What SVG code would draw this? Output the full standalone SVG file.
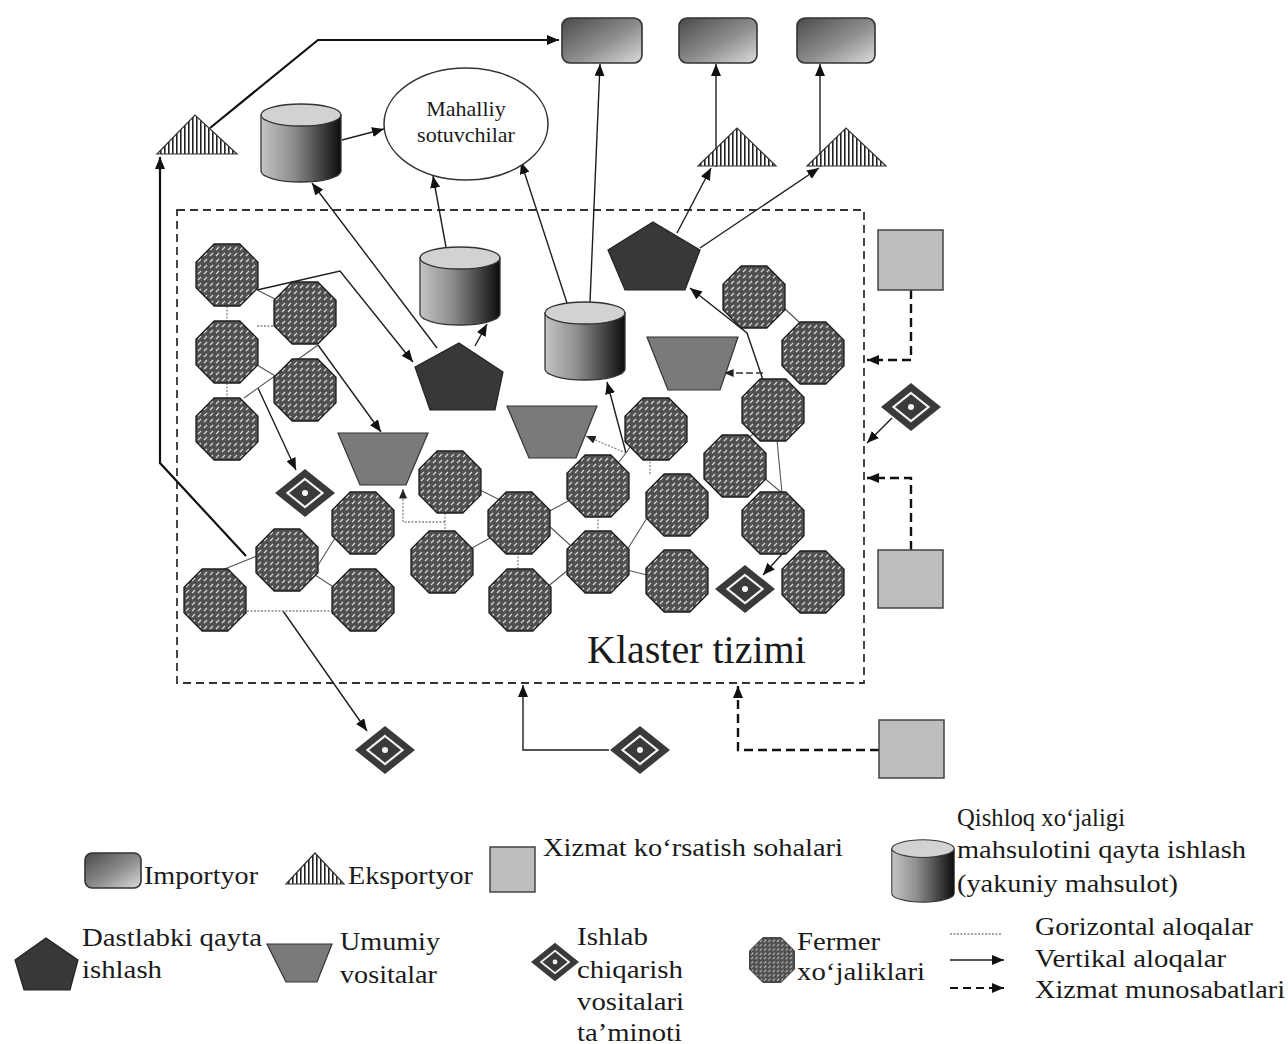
<svg xmlns="http://www.w3.org/2000/svg" xmlns:xlink="http://www.w3.org/1999/xlink" width="1288" height="1044" viewBox="0 0 1288 1044" font-family="'Liberation Serif', 'Times New Roman', serif">
<style>
text{font-family:"Liberation Serif","Times New Roman",serif;fill:#1a1a1a}
.lg{font-size:25px}
.v{fill:none;stroke:#1e1e1e;stroke-width:1.4}
.vt{fill:none;stroke:#111;stroke-width:2.2}
.s{fill:none;stroke:#111;stroke-width:2.4;stroke-dasharray:9 5}
.h{fill:none;stroke:#888;stroke-width:1.3;stroke-dasharray:2 1.5}
.l{fill:none;stroke:#555;stroke-width:1.1}
.pent{fill:#383838;stroke:#222;stroke-width:1.2}
.trap{fill:#7a7a7a;stroke:#333;stroke-width:1.2}
.svc{fill:#bdbdbd;stroke:#444;stroke-width:1.5}
.imp{fill:url(#gimp);stroke:#333;stroke-width:1.6}
.exp{fill:url(#vstr);stroke:#333;stroke-width:1.2}
</style>
<defs>
<linearGradient id="gimp" x1="0" y1="0" x2="1" y2="1">
<stop offset="0" stop-color="#4a4a4a"/><stop offset="0.55" stop-color="#8e8e8e"/><stop offset="1" stop-color="#dcdcdc"/>
</linearGradient>
<linearGradient id="gcyl" x1="0" y1="0" x2="1" y2="0">
<stop offset="0" stop-color="#c4c4c4"/><stop offset="0.4" stop-color="#8e8e8e"/><stop offset="0.78" stop-color="#3c3c3c"/><stop offset="1" stop-color="#0c0c0c"/>
</linearGradient>
<pattern id="dots" width="6" height="6" patternUnits="userSpaceOnUse">
<rect width="6" height="6" fill="#505050"/><path d="M1,5 L4,2" stroke="#d6d6d6" stroke-width="1.3"/>
</pattern>
<pattern id="vstr" width="4" height="4" patternUnits="userSpaceOnUse">
<rect width="4" height="4" fill="#fff"/><rect width="1.6" height="4" fill="#222"/>
</pattern>
<polygon id="oct" points="-12.8,-31 12.8,-31 31,-12.8 31,12.8 12.8,31 -12.8,31 -31,12.8 -31,-12.8" fill="url(#dots)" stroke="#1e1e1e" stroke-width="1.3"/>
<g id="cyl">
<path d="M-40,-28 L-40,28 A40,11 0 0 0 40,28 L40,-28 Z" fill="url(#gcyl)" stroke="#333" stroke-width="1.3"/>
<ellipse cx="0" cy="-28" rx="40" ry="11" fill="#d2d2d2" stroke="#333" stroke-width="1.3"/>
</g>
<g id="dia">
<polygon points="0,-24 30,0 0,24 -30,0" fill="#3a3a3a"/>
<polygon points="0,-14 17.5,0 0,14 -17.5,0" fill="none" stroke="#f4f4f4" stroke-width="2.2"/>
<circle r="3" fill="#f4f4f4"/>
</g>
<marker id="a" viewBox="0 0 12 10" refX="12" refY="5" markerWidth="12" markerHeight="10" markerUnits="userSpaceOnUse" orient="auto">
<path d="M0,0 L12,5 L0,10 Z" fill="#111"/>
</marker>
<marker id="as" viewBox="0 0 12 10" refX="12" refY="5" markerWidth="10" markerHeight="8" markerUnits="userSpaceOnUse" orient="auto">
<path d="M0,0 L12,5 L0,10 Z" fill="#222"/>
</marker>
</defs>

<rect width="1288" height="1044" fill="#fff"/>

<g id="cluster">
<rect x="177" y="210" width="687" height="473" fill="none" stroke="#333" stroke-width="1.8" stroke-dasharray="8 5"/>
<text x="587" y="663" font-size="40">Klaster tizimi</text>
</g>

<g id="connectors">
<polyline class="vt" points="210,128 318,40 559,40" marker-end="url(#a)"/>
<polyline class="vt" points="246,556 160,463 160,157" marker-end="url(#a)"/>
<line class="v" x1="342" y1="140" x2="384" y2="129" marker-end="url(#a)"/>
<line class="v" x1="437" y1="348" x2="312" y2="183" marker-end="url(#a)"/>
<line class="v" x1="446" y1="247" x2="433" y2="176" marker-end="url(#a)"/>
<line class="v" x1="567" y1="303" x2="521" y2="162" marker-end="url(#a)"/>
<line class="v" x1="590" y1="302" x2="600" y2="64" marker-end="url(#a)"/>
<line class="v" x1="475" y1="346" x2="487" y2="324" marker-end="url(#a)"/>
<line class="v" x1="677" y1="233" x2="711" y2="168" marker-end="url(#a)"/>
<line class="v" x1="716" y1="167" x2="716" y2="64" marker-end="url(#a)"/>
<line class="v" x1="700" y1="248" x2="819" y2="168" marker-end="url(#a)"/>
<line class="v" x1="820" y1="167" x2="820" y2="64" marker-end="url(#a)"/>
<polyline class="v" points="257,290 340,271 413,362" marker-end="url(#a)"/>
<line class="v" x1="318" y1="345" x2="381" y2="432" marker-end="url(#a)"/>
<line class="v" x1="258" y1="388" x2="296" y2="470" marker-end="url(#a)"/>
<line class="v" x1="283" y1="611" x2="367" y2="731" marker-end="url(#a)"/>
<polyline class="v" points="609,750 523,750 523,685" marker-end="url(#a)"/>
<polyline class="v" points="763,380 747,333 690,288" marker-end="url(#a)"/>
<line class="v" x1="626" y1="453" x2="607" y2="382" marker-end="url(#a)"/>
<line class="v" x1="783" y1="553" x2="763" y2="575" marker-end="url(#a)"/>
<line class="v" x1="892" y1="418" x2="867" y2="443" marker-end="url(#a)"/>
<polyline class="s" points="911,290 911,360 867,360" marker-end="url(#a)"/>
<polyline class="s" points="911,550 911,478 867,478" marker-end="url(#a)"/>
<polyline class="s" points="879,750 738,750 738,686" marker-end="url(#a)"/>
<line class="h" x1="626" y1="453" x2="586" y2="436" marker-end="url(#as)"/>
<line x1="763" y1="373" x2="724" y2="373" fill="none" stroke="#333" stroke-width="1.6" stroke-dasharray="7 3" marker-end="url(#as)"/>
<polyline class="h" points="445,522 403,522 403,489" marker-end="url(#as)"/>
<line class="h" x1="227" y1="306" x2="227" y2="322"/>
<line class="h" x1="227" y1="383" x2="227" y2="399"/>
<line class="l" x1="257" y1="290" x2="277" y2="300"/>
<line class="h" x1="257" y1="326" x2="277" y2="326"/>
<line class="l" x1="257" y1="365" x2="277" y2="377"/>
<line class="l" x1="244" y1="398" x2="318" y2="345"/>
<line class="h" x1="247" y1="611" x2="333" y2="611"/>
<line class="l" x1="222" y1="570" x2="257" y2="556"/>
<line class="l" x1="315" y1="570" x2="335" y2="538"/>
<line class="l" x1="315" y1="575" x2="335" y2="588"/>
<line class="h" x1="445" y1="513" x2="445" y2="532"/>
<line class="l" x1="480" y1="490" x2="500" y2="500"/>
<line class="l" x1="472" y1="548" x2="490" y2="538"/>
<line class="h" x1="518" y1="553" x2="518" y2="570"/>
<line class="l" x1="548" y1="512" x2="570" y2="500"/>
<line class="l" x1="548" y1="525" x2="570" y2="545"/>
<line class="l" x1="546" y1="588" x2="568" y2="570"/>
<line class="h" x1="598" y1="516" x2="598" y2="530"/>
<line class="l" x1="618" y1="463" x2="626" y2="453"/>
<line class="l" x1="626" y1="453" x2="630" y2="447"/>
<line class="l" x1="627" y1="550" x2="647" y2="518"/>
<line class="l" x1="627" y1="570" x2="647" y2="575"/>
<line class="h" x1="650" y1="458" x2="650" y2="475"/>
<line class="l" x1="783" y1="307" x2="800" y2="323"/>
<line class="l" x1="756" y1="432" x2="745" y2="440"/>
<line class="l" x1="777" y1="440" x2="782" y2="493"/>
<line class="l" x1="763" y1="477" x2="782" y2="493"/>
</g>

<g id="importer-1"><rect class="imp" x="562" y="18" width="80" height="45" rx="8"/></g>
<g id="importer-2"><rect class="imp" x="679" y="18" width="78" height="45" rx="8"/></g>
<g id="importer-3"><rect class="imp" x="797" y="18" width="78" height="45" rx="8"/></g>
<g id="exporter-1"><polygon class="exp" points="157,154 195,115 237,154"/></g>
<g id="exporter-2"><polygon class="exp" points="698,166 737,128 776,166"/></g>
<g id="exporter-3"><polygon class="exp" points="807,166 846,128 886,166"/></g>
<g id="cylinder-1"><use href="#cyl" x="301" y="143"/></g>
<g id="local-sellers">
<ellipse cx="466" cy="124" rx="82" ry="56" fill="#fff" stroke="#333" stroke-width="1.5"/>
<text x="466" y="116" font-size="22" text-anchor="middle">Mahalliy</text>
<text x="466" y="142" font-size="22" text-anchor="middle">sotuvchilar</text>
</g>

<g id="cylinder-2"><use href="#cyl" x="460" y="286"/></g>
<g id="cylinder-3"><use href="#cyl" x="585" y="341"/></g>
<g id="pent-1"><polygon class="pent" points="459,343 503,372 495,410 430,410 415,367"/></g>
<g id="pent-2"><polygon class="pent" points="653,222 700,250 685,290 625,290 608,250"/></g>
<g id="trap-1"><polygon class="trap" points="338,433 428,433 406,485 360,485"/></g>
<g id="trap-2"><polygon class="trap" points="507,406 597,406 576,458 529,458"/></g>
<g id="trap-3"><polygon class="trap" points="647,337 738,337 720,390 668,390"/></g>

<g id="farm-A"><use href="#oct" x="227" y="275"/></g>
<g id="farm-B"><use href="#oct" x="305" y="313"/></g>
<g id="farm-C"><use href="#oct" x="227" y="352"/></g>
<g id="farm-D"><use href="#oct" x="305" y="390"/></g>
<g id="farm-E"><use href="#oct" x="227" y="429"/></g>
<g id="farm-F"><use href="#oct" x="215" y="600"/></g>
<g id="farm-G"><use href="#oct" x="287" y="560"/></g>
<g id="farm-H"><use href="#oct" x="363" y="523"/></g>
<g id="farm-I"><use href="#oct" x="363" y="600"/></g>
<g id="farm-J"><use href="#oct" x="450" y="482"/></g>
<g id="farm-K"><use href="#oct" x="442" y="562"/></g>
<g id="farm-L"><use href="#oct" x="519" y="523"/></g>
<g id="farm-M"><use href="#oct" x="520" y="600"/></g>
<g id="farm-N"><use href="#oct" x="598" y="486"/></g>
<g id="farm-O"><use href="#oct" x="598" y="562"/></g>
<g id="farm-P"><use href="#oct" x="656" y="429"/></g>
<g id="farm-Q"><use href="#oct" x="677" y="505"/></g>
<g id="farm-R"><use href="#oct" x="677" y="581"/></g>
<g id="farm-S"><use href="#oct" x="754" y="297"/></g>
<g id="farm-T"><use href="#oct" x="813" y="353"/></g>
<g id="farm-U"><use href="#oct" x="773" y="410"/></g>
<g id="farm-V"><use href="#oct" x="735" y="466"/></g>
<g id="farm-W"><use href="#oct" x="773" y="523"/></g>
<g id="farm-X"><use href="#oct" x="813" y="582"/></g>

<g id="supply-1"><use href="#dia" x="305" y="493"/></g>
<g id="supply-2"><use href="#dia" x="745" y="589"/></g>
<g id="supply-3"><use href="#dia" x="911" y="407"/></g>
<g id="supply-4"><use href="#dia" x="385" y="750"/></g>
<g id="supply-5"><use href="#dia" x="640" y="750"/></g>

<g id="service-1"><rect class="svc" x="878" y="230" width="65" height="60"/></g>
<g id="service-2"><rect class="svc" x="878" y="550" width="65" height="58"/></g>
<g id="service-3"><rect class="svc" x="879" y="720" width="65" height="58"/></g>

<g id="legend">
<rect class="imp" x="85" y="853" width="56" height="35" rx="7"/>
<text class="lg" x="144" y="884" textLength="114" lengthAdjust="spacingAndGlyphs">Importyor</text>
<polygon class="exp" points="286,884 315,853 344,884"/>
<text class="lg" x="348" y="884" textLength="125" lengthAdjust="spacingAndGlyphs">Eksportyor</text>
<rect class="svc" x="490" y="847" width="45" height="45"/>
<text class="lg" x="543" y="856" textLength="300" lengthAdjust="spacingAndGlyphs">Xizmat ko‘rsatish sohalari</text>
<use href="#cyl" transform="translate(923,871) scale(0.78,0.8)"/>
<text class="lg" x="957" y="826" textLength="168" lengthAdjust="spacingAndGlyphs">Qishloq xo‘jaligi</text>
<text class="lg" x="957" y="858" textLength="289" lengthAdjust="spacingAndGlyphs">mahsulotini qayta ishlash</text>
<text class="lg" x="957" y="892" textLength="221" lengthAdjust="spacingAndGlyphs">(yakuniy mahsulot)</text>
<polygon class="pent" points="46,938 78,960 70,990 24,990 15,960"/>
<text class="lg" x="82" y="946" textLength="180" lengthAdjust="spacingAndGlyphs">Dastlabki qayta</text>
<text class="lg" x="82" y="978" textLength="80" lengthAdjust="spacingAndGlyphs">ishlash</text>
<polygon class="trap" points="267,944 332,944 317,982 286,982"/>
<text class="lg" x="340" y="950" textLength="100" lengthAdjust="spacingAndGlyphs">Umumiy</text>
<text class="lg" x="340" y="983" textLength="97" lengthAdjust="spacingAndGlyphs">vositalar</text>
<use href="#dia" transform="translate(555,962) scale(0.8)"/>
<text class="lg" x="577" y="945" textLength="71" lengthAdjust="spacingAndGlyphs">Ishlab</text>
<text class="lg" x="577" y="978" textLength="106" lengthAdjust="spacingAndGlyphs">chiqarish</text>
<text class="lg" x="577" y="1010" textLength="107" lengthAdjust="spacingAndGlyphs">vositalari</text>
<text class="lg" x="577" y="1041" textLength="105" lengthAdjust="spacingAndGlyphs">ta’minoti</text>
<use href="#oct" transform="translate(772,960) scale(0.72)"/>
<text class="lg" x="797" y="950" textLength="83" lengthAdjust="spacingAndGlyphs">Fermer</text>
<text class="lg" x="797" y="980" textLength="128" lengthAdjust="spacingAndGlyphs">xo‘jaliklari</text>
<line class="h" x1="950" y1="934" x2="1002" y2="934"/>
<line class="v" x1="950" y1="960" x2="1004" y2="960" marker-end="url(#a)"/>
<line x1="950" y1="988" x2="1004" y2="988" fill="none" stroke="#111" stroke-width="2" stroke-dasharray="8 5" marker-end="url(#a)"/>
<text class="lg" x="1035" y="935" textLength="218" lengthAdjust="spacingAndGlyphs">Gorizontal aloqalar</text>
<text class="lg" x="1035" y="967" textLength="191" lengthAdjust="spacingAndGlyphs">Vertikal aloqalar</text>
<text class="lg" x="1035" y="998" textLength="250" lengthAdjust="spacingAndGlyphs">Xizmat munosabatlari</text>
</g>
</svg>
